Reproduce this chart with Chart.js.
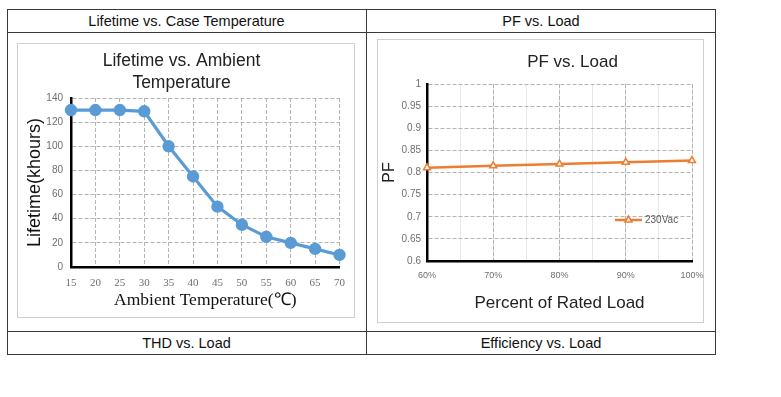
<!DOCTYPE html>
<html>
<head>
<meta charset="utf-8">
<script src="https://cdn.jsdelivr.net/npm/chart.js@4.4.1/dist/chart.umd.min.js"></script>
<style>
  body { margin:0; background:#fff; width:781px; height:397px; position:relative; overflow:hidden;
         font-family:'Liberation Sans', Arial, sans-serif; }
  .abs { position:absolute; }
  .cell { position:absolute; display:flex; align-items:center; justify-content:center; font-size:14.5px; color:#111; }
  .box { position:absolute; border:1px solid #cfcfcf; box-sizing:border-box; }
  .hl { position:absolute; height:1px; background:#3a3a3a; }
  .vl { position:absolute; width:1px; background:#3a3a3a; }
</style>
</head>
<body>
<!-- table frame -->
<div class="abs" style="left:7px;top:9px;width:709px;height:346px;border:1px solid #3a3a3a;box-sizing:border-box"></div>
<div class="hl" style="left:7px;top:32px;width:709px"></div>
<div class="hl" style="left:7px;top:331px;width:709px"></div>
<div class="vl" style="left:366px;top:9px;height:346px"></div>
<div class="cell" style="left:7px;top:10px;width:359px;height:22px">Lifetime vs. Case Temperature</div>
<div class="cell" style="left:367px;top:10px;width:348px;height:22px">PF vs. Load</div>
<div class="cell" style="left:7px;top:332px;width:359px;height:22px">THD vs. Load</div>
<div class="cell" style="left:367px;top:332px;width:348px;height:22px">Efficiency vs. Load</div>

<div class="box" style="left:17px;top:43px;width:338px;height:275px"></div>
<div class="box" style="left:377px;top:39px;width:327px;height:284px"></div>

<canvas id="life" class="abs" width="338" height="275" style="left:17px;top:43px"></canvas>
<canvas id="pf" class="abs" width="385" height="284" style="left:380px;top:39px"></canvas>

<script>
// lifetime chart
const tempC = [15, 20, 25, 30, 35, 40, 45, 50, 55, 60, 65, 70];
const lifeKh = [130, 130, 130, 129, 100, 75, 50, 35, 25, 20, 15, 10];

// PF chart
const loadPct = [60, 70, 80, 90, 100];
const pf230 = [0.811, 0.815, 0.819, 0.823, 0.827];
const pfLabel = '230Vac';

const SANS = "'Liberation Sans', Arial, sans-serif";
const SERIF = "'Liberation Serif', 'Times New Roman', serif";
const GRID = '#b3b3b3';
const DASH = [4, 2];
const TICK = '#6e6e6e';

Chart.defaults.animation = false;
Chart.defaults.font.family = SANS;

new Chart(document.getElementById('life'), {
  type: 'line',
  data: {
    datasets: [{
      data: tempC.map((t, i) => ({x: t, y: lifeKh[i]})),
      borderColor: '#5B9BD5',
      backgroundColor: '#5B9BD5',
      borderWidth: 3.2,
      pointRadius: 4.6,
      pointHoverRadius: 4.6,
      clip: false
    }]
  },
  options: {
    responsive: false,
    devicePixelRatio: 1,
    layout: {padding: {left: 0, right: 9, top: 0, bottom: 0}},
    plugins: {
      legend: {display: false},
      tooltip: {enabled: false},
      title: {
        display: true,
        text: ['Lifetime vs. Ambient', 'Temperature'],
        color: '#222',
        font: {size: 17.5, weight: 'normal', lineHeight: 22 / 17.5},
        padding: {top: 7, bottom: 4}
      }
    },
    scales: {
      x: {
        type: 'linear', min: 15, max: 70,
        afterFit: s => { s.height = 51; },
        ticks: {stepSize: 5, color: TICK, padding: 10, font: {family: SERIF, size: 11}},
        grid: {color: GRID, drawTicks: false, z: -1},
        border: {color: '#000', width: 2.5, dash: DASH},
        title: {display: true, text: 'Ambient Temperature(\u2103)', color: '#111',
                font: {family: SERIF, size: 17.5}, padding: {top: 0, bottom: 7.5}}
      },
      y: {
        min: 0, max: 140,
        afterFit: s => { s.width = 54; },
        ticks: {stepSize: 20, color: TICK, padding: 8, font: {size: 10}},
        grid: {color: GRID, drawTicks: false, z: -1},
        border: {color: '#000', width: 2.5, dash: DASH},
        title: {display: true, text: 'Lifetime(khours)', color: '#111',
                font: {size: 18}, padding: {top: 7, bottom: 0}}
      }
    }
  }
});

const legendInside = {
  id: 'legendInside',
  afterDatasetsDraw(chart) {
    const {ctx, chartArea: a} = chart;
    const ds = chart.data.datasets[0];
    const y = a.bottom - 41;
    const x0 = a.right - 77, x1 = a.right - 50;
    ctx.save();
    ctx.strokeStyle = ds.borderColor;
    ctx.lineWidth = 2.5;
    ctx.beginPath(); ctx.moveTo(x0, y); ctx.lineTo(x1, y); ctx.stroke();
    ctx.fillStyle = '#fff';
    ctx.lineWidth = 1.5;
    Chart.helpers.drawPoint(ctx, {pointStyle: 'triangle', radius: 4, borderWidth: 1.5, rotation: 0}, (x0 + x1) / 2, y);
    ctx.fillStyle = '#595959';
    ctx.font = '10px ' + SANS;
    ctx.textBaseline = 'middle';
    ctx.fillText(ds.label, x1 + 3, y);
    ctx.restore();
  }
};

new Chart(document.getElementById('pf'), {
  type: 'line',
  data: {
    datasets: [{
      label: pfLabel,
      data: loadPct.map((p, i) => ({x: p, y: pf230[i]})),
      borderColor: '#ED7D31',
      backgroundColor: '#fff',
      borderWidth: 2.5,
      pointStyle: 'triangle',
      pointRadius: 4,
      pointHoverRadius: 4,
      pointBorderWidth: 1.5,
      clip: false
    }]
  },
  plugins: [legendInside],
  options: {
    responsive: false,
    devicePixelRatio: 1,
    layout: {padding: 0},
    plugins: {
      legend: {display: false},
      tooltip: {enabled: false},
      title: {
        display: true,
        text: 'PF vs. Load',
        color: '#222',
        font: {size: 17, weight: 'normal', lineHeight: 1.2},
        padding: {top: 13.2, bottom: 11.4}
      }
    },
    scales: {
      x: {
        type: 'linear', min: 60, max: 100,
        afterFit: s => { s.height = 62; },
        ticks: {stepSize: 10, color: TICK, padding: 9.6, font: {size: 9},
                callback: v => v + '%'},
        grid: {color: GRID, drawTicks: false, z: -1},
        border: {color: '#000', width: 2.5, dash: DASH},
        title: {display: true, text: 'Percent of Rated Load', color: '#222',
                font: {size: 17}, padding: {top: 0, bottom: 9.8}}
      },
      xMinor: {
        type: 'linear', min: 60, max: 100, position: 'top',
        afterFit: s => { s.height = 0; },
        ticks: {display: false, stepSize: 5},
        grid: {color: '#e6e6e6', drawTicks: false, z: -2},
        border: {display: false}
      },
      y: {
        min: 0.6, max: 1,
        afterFit: s => { s.width = 47; },
        ticks: {stepSize: 0.05, color: TICK, padding: 6, font: {size: 10},
                callback: v => String(+v.toFixed(2))},
        grid: {color: GRID, drawTicks: false, z: -1},
        border: {color: '#000', width: 2.5, dash: DASH},
        title: {display: true, text: 'PF', color: '#222',
                font: {size: 16}, padding: {top: 0, bottom: 0}}
      },
      // empty right-hand spacer so the title centres like the original
      ySpace: {
        position: 'right', min: 0, max: 1,
        afterFit: s => { s.width = 73; },
        ticks: {display: false},
        grid: {display: false},
        border: {display: false}
      }
    }
  }
});
</script>
</body>
</html>
